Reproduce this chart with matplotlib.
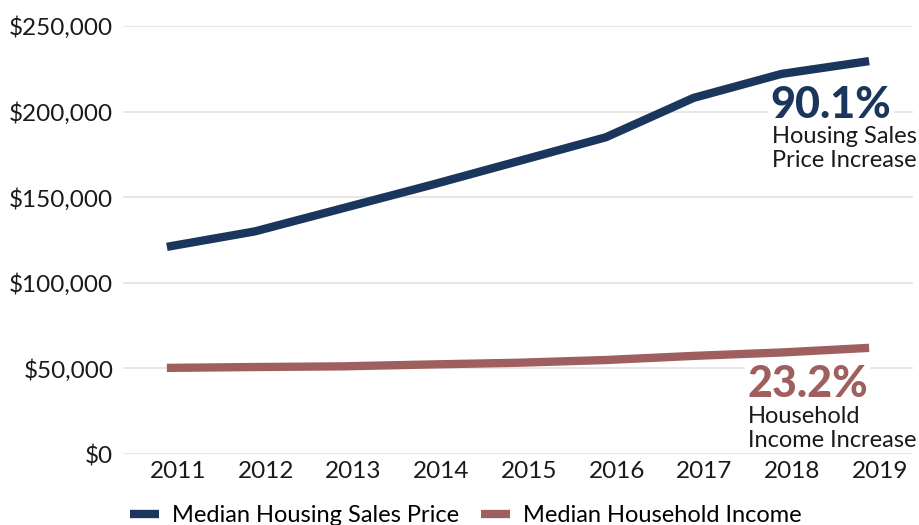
import matplotlib
matplotlib.use('Agg')
import matplotlib.pyplot as plt
import matplotlib.transforms as mtransforms
from matplotlib.ticker import FuncFormatter

plt.rcParams['font.family'] = ['Lato', 'DejaVu Sans']

years = ['2011', '2012', '2013', '2014', '2015', '2016', '2017', '2018', '2019']
housing_price = [121000, 130000, 143500, 157000, 171000, 185000, 208000, 222000, 229500]
household_income = [50300, 50800, 51200, 52300, 53300, 54900, 57300, 59300, 62000]

NAVY = '#1b365d'
BROWN = '#a05f5f'

fig = plt.figure(figsize=(9.19, 5.25), dpi=100)
ax = fig.add_axes([123 / 919, 1 - 454 / 525, 790 / 919, 428 / 525])

x = list(range(len(years)))
ax.plot(x, housing_price, color=NAVY, lw=6, solid_capstyle='butt', label='Median Housing Sales Price')
ax.plot(x, household_income, color=BROWN, lw=6, solid_capstyle='butt', label='Median Household Income')

ax.set_ylim(0, 250000)
ax.set_xlim(-0.5, len(years) - 0.5)
ax.set_yticks(range(0, 250001, 50000))
ax.yaxis.set_major_formatter(FuncFormatter(lambda v, p: f'${v:,.0f}'))
ax.set_xticks(x)
ax.set_xticklabels(years)
ax.tick_params(axis='both', length=0, labelsize=17.5, colors='#1a1a1a')
ax.tick_params(axis='y', pad=7)
ax.tick_params(axis='x', pad=5)
# year labels sit a little right of the points in the original
shift = mtransforms.ScaledTranslation(0.11, 0, fig.dpi_scale_trans)
for lab in ax.get_xticklabels():
    lab.set_transform(lab.get_transform() + shift)
ax.grid(axis='y', color='#e3e3e3', lw=1.2)
ax.set_axisbelow(True)
for s in ax.spines.values():
    s.set_visible(False)

# annotations (white box hides the gridline behind them)
box = dict(fc='white', ec='none', pad=2)
ax.text(6.88, 196500, '90.1%', color=NAVY, fontsize=31, fontweight='black',
        va='baseline', ha='left', bbox=box, zorder=1)
ax.text(6.89, 181900, 'Housing Sales', color='#1a1a1a', fontsize=17, va='baseline', ha='left')
ax.text(6.89, 167800, 'Price Increase', color='#1a1a1a', fontsize=17, va='baseline', ha='left')
ax.text(6.61, 33300, '23.2%', color=BROWN, fontsize=31, fontweight='black',
        va='baseline', ha='left', bbox=box, zorder=1)
ax.text(6.62, 18100, 'Household', color='#1a1a1a', fontsize=17, va='baseline', ha='left')
ax.text(6.62, 4100, 'Income Increase', color='#1a1a1a', fontsize=17, va='baseline', ha='left')

fig.legend(loc='lower center', bbox_to_anchor=(0.507, -0.042), ncol=2, frameon=False,
           fontsize=17, handlelength=1.25, handletextpad=0.55, columnspacing=0.9)

fig.savefig('out.png', dpi=100)
